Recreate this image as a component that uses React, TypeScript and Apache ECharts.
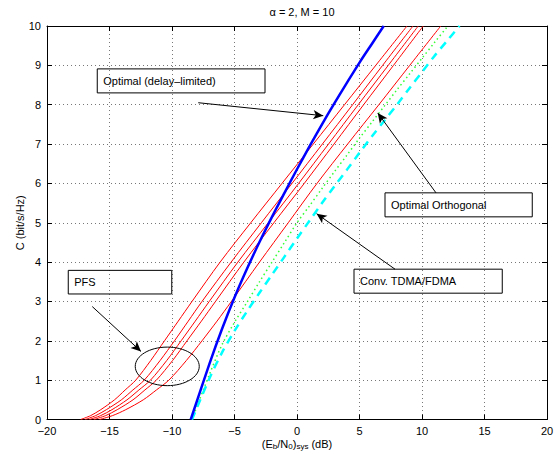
import React, { useEffect, useRef } from "react";
import * as echarts from "echarts";

const FONT = '"Liberation Sans", Arial, Helvetica, sans-serif';

// capacity levels (bit/s/Hz) at which the PFS curves were read
const pfsLevels = [0, 0.1, 0.25, 0.5, 0.75, 1, 1.5, 2, 2.5, 3, 4, 5, 6, 7, 8, 9, 10];
// Eb/N0 (dB) of each PFS curve at those levels
const pfs1 = [-17.3, -16.5, -15.7, -14.6, -13.75, -12.9, -11.7, -10.6, -9.5, -8.4, -6.15, -3.7, -1.2, 1.3, 3.8, 6.3, 8.8];
const pfs2 = [-16.95, -16.1, -15.25, -14.05, -13.13, -12.22, -10.95, -9.8, -8.7, -7.6, -5.27, -2.85, -0.4, 2.03, 4.45, 6.85, 9.28];
const pfs3 = [-16.6, -15.7, -14.8, -13.6, -12.65, -11.72, -10.42, -9.27, -8.14, -7.02, -4.73, -2.3, 0.13, 2.52, 4.9, 7.3, 9.7];
const pfs4 = [-16.25, -15.3, -14.38, -13.12, -12.17, -11.25, -9.95, -8.8, -7.65, -6.52, -4.25, -1.85, 0.58, 2.96, 5.33, 7.72, 10.1];
const pfs5 = [-15.8, -14.75, -13.7, -12.3, -11.25, -10.25, -8.85, -7.6, -6.4, -5.25, -3.0, -0.7, 1.6, 4.05, 6.55, 9.02, 11.5];

// Optimal (delay-limited)
const optX = [-8.5, -7, -6, -5, -4, -3, -2, -1, 0, 1, 2, 3, 4, 5, 6, 6.94];
const optC = [0, 1.42, 2.3, 3.1, 3.83, 4.51, 5.15, 5.76, 6.36, 6.94, 7.5, 8.04, 8.56, 9.07, 9.55, 10];

// Optimal Orthogonal
const orthX = [-8.4, -7, -6, -5, -4, -3, -2, -1, 0, 1, 2, 3, 4, 5, 6, 7, 8, 9, 10, 11, 12, 12.1];
const orthC = [0, 1.15, 1.9, 2.47, 2.98, 3.5, 4.0, 4.5, 5.0, 5.43, 5.87, 6.3, 6.72, 7.15, 7.56, 7.97, 8.38, 8.78, 9.18, 9.58, 9.97, 10];

// Conv. TDMA/FDMA
const convX = [-8.4, -7, -6, -5, -4, -3, -2, -1, 0, 1, 2, 3, 4, 5, 6, 7, 8, 9, 10, 11, 12, 13];
const convC = [0, 1.05, 1.7, 2.25, 2.75, 3.22, 3.68, 4.14, 4.6, 5.05, 5.5, 5.93, 6.35, 6.78, 7.2, 7.6, 8.0, 8.42, 8.83, 9.24, 9.62, 10];

// annotation boxes: [x1, c1, x2, c2] in data coordinates
const boxLabels = ["Optimal (delay–limited)", "Optimal Orthogonal", "Conv. TDMA/FDMA", "PFS"];
const boxCorners = [
  [-15.98, 8.91, -2.56, 8.3],
  [7.04, 5.76, 18.82, 5.15],
  [4.56, 3.82, 16.42, 3.21],
  [-18.3, 3.79, -10.02, 3.19],
];
// arrows: [fromX, fromC, toX, toC]
const arrows = [
  [-7.9, 8.05, 2.1, 7.72],
  [11.12, 5.76, 6.46, 7.79],
  [7.84, 3.82, 1.57, 5.23],
  [-16.38, 2.87, -12.48, 1.73],
];
// PFS ellipse: centre and radii
const ellipseCenter = [-10.38, 1.35];
const ellipseRadii = [2.56, 0.49];

const xTicks = { min: -20, max: 20, interval: 5 };
const yTicks = { min: 0, max: 10, interval: 1 };

const zip = (xs: number[], ys: number[]) => xs.map((x, i) => [x, ys[i]]);
const minus = (v: number) => String(v).replace("-", "−");

export default function App() {
  const ref = useRef<HTMLDivElement>(null);
  useEffect(() => {
    if (!ref.current) return;
    const chart = echarts.init(ref.current, undefined, { renderer: "svg" });
    const axisLine = { show: true, onZero: false, lineStyle: { color: "#000", width: 1 } };
    const tick = { show: true, inside: true, length: 5, lineStyle: { color: "#000" } };
    const split = { show: true, lineStyle: { color: "#777", type: [1, 3] as any, width: 1 } };
    const pfsSeries = [pfs1, pfs2, pfs3, pfs4, pfs5].map((xs, i) => ({
      name: "PFS " + (i + 1),
      type: "line",
      data: zip(xs, pfsLevels),
      showSymbol: false,
      smooth: 0.3,
      lineStyle: { color: "#ff0000", width: 1 },
      z: 2,
    }));
    chart.setOption({
      animation: false,
      backgroundColor: "#fff",
      title: {
        text: "α = 2, M = 10",
        left: 297,
        textAlign: "center",
        top: 1,
        textStyle: { fontSize: 11, fontWeight: "normal", color: "#000", fontFamily: FONT },
      },
      grid: { left: 47, right: 8, top: 26, bottom: 34.5, outerBoundsMode: "none", containLabel: false } as any,
      xAxis: [
        {
          type: "value",
          ...xTicks,
          position: "bottom",
          axisLine,
          axisTick: tick,
          splitLine: split,
          axisLabel: { color: "#000", fontSize: 11, fontFamily: FONT, margin: 6, formatter: minus },
          name: "(E{s|b}/N{s|0}){s|sys} (dB)",
          nameLocation: "middle",
          nameMoveOverlap: false,
          nameGap: 17,
          nameTextStyle: {
            color: "#000",
            fontSize: 11,
            fontFamily: FONT,
            rich: {
              s: { fontSize: 8, fontFamily: FONT, color: "#000", verticalAlign: "bottom", padding: [6, 0, 0, 0] },
            },
          },
        },
        {
          type: "value",
          ...xTicks,
          position: "top",
          axisLine,
          axisTick: tick,
          splitLine: { show: false },
          axisLabel: { show: false },
        },
      ],
      yAxis: [
        {
          type: "value",
          ...yTicks,
          position: "left",
          axisLine,
          axisTick: tick,
          splitLine: split,
          axisLabel: { color: "#000", fontSize: 11, fontFamily: FONT, margin: 6 },
          name: "C (bit/s/Hz)",
          nameLocation: "middle",
          nameMoveOverlap: false,
          nameGap: 22,
          nameTextStyle: { color: "#000", fontSize: 11, fontFamily: FONT },
        },
        {
          type: "value",
          ...yTicks,
          position: "right",
          axisLine,
          axisTick: tick,
          splitLine: { show: false },
          axisLabel: { show: false },
        },
      ],
      series: [
        ...pfsSeries,
        {
          name: "Optimal Orthogonal",
          type: "line",
          data: zip(orthX, orthC),
          showSymbol: false,
          smooth: 0.3,
          lineStyle: { color: "#33ff33", width: 1.5, type: [1.5, 3] as any },
          z: 3,
        },
        {
          name: "Conv. TDMA/FDMA",
          type: "line",
          data: zip(convX, convC),
          showSymbol: false,
          smooth: 0.3,
          lineStyle: { color: "#00ffff", width: 2.5, type: [8, 6] as any },
          z: 3,
        },
        {
          name: "Optimal (delay-limited)",
          type: "line",
          data: zip(optX, optC),
          showSymbol: false,
          smooth: 0.3,
          lineStyle: { color: "#0000ff", width: 2.5 },
          z: 4,
        },
        {
          name: "annotations",
          type: "line",
          data: [],
          z: 5,
          markLine: {
            silent: true,
            animation: false,
            symbolSize: [7, 10],
            label: { show: false },
            lineStyle: { color: "#000", width: 1, type: "solid" },
            data: arrows.map(([x1, y1, x2, y2]) => [
              { coord: [x1, y1], symbol: "none" },
              { coord: [x2, y2], symbol: "arrow" },
            ]),
          },
        },
      ],
    });

    const px = (p: number[]) => chart.convertToPixel({ gridIndex: 0 }, p) as number[];
    const graphics: any[] = [];
    boxCorners.forEach(([x1, c1, x2, c2], i) => {
      const a = px([x1, c1]);
      const b = px([x2, c2]);
      graphics.push({
        type: "rect",
        shape: { x: a[0], y: a[1], width: b[0] - a[0], height: b[1] - a[1] },
        style: { fill: "none", stroke: "#000", lineWidth: 1 },
        z: 10,
      });
      graphics.push({
        type: "text",
        x: a[0] + 6,
        y: (a[1] + b[1]) / 2,
        style: {
          text: boxLabels[i],
          fill: "#000",
          font: "11px " + FONT,
          verticalAlign: "middle",
          align: "left",
        },
        z: 10,
      });
    });
    const c = px(ellipseCenter);
    const r = px([ellipseCenter[0] + ellipseRadii[0], ellipseCenter[1] + ellipseRadii[1]]);
    graphics.push({
      type: "ellipse",
      shape: { cx: c[0], cy: c[1], rx: Math.abs(r[0] - c[0]), ry: Math.abs(r[1] - c[1]) },
      style: { fill: "none", stroke: "#000", lineWidth: 1 },
      z: 10,
    });
    chart.setOption({ graphic: graphics });

    return () => chart.dispose();
  }, []);
  return <div ref={ref} style={{ width: 555, height: 454, position: "absolute", left: 0, top: 0 }} />;
}
